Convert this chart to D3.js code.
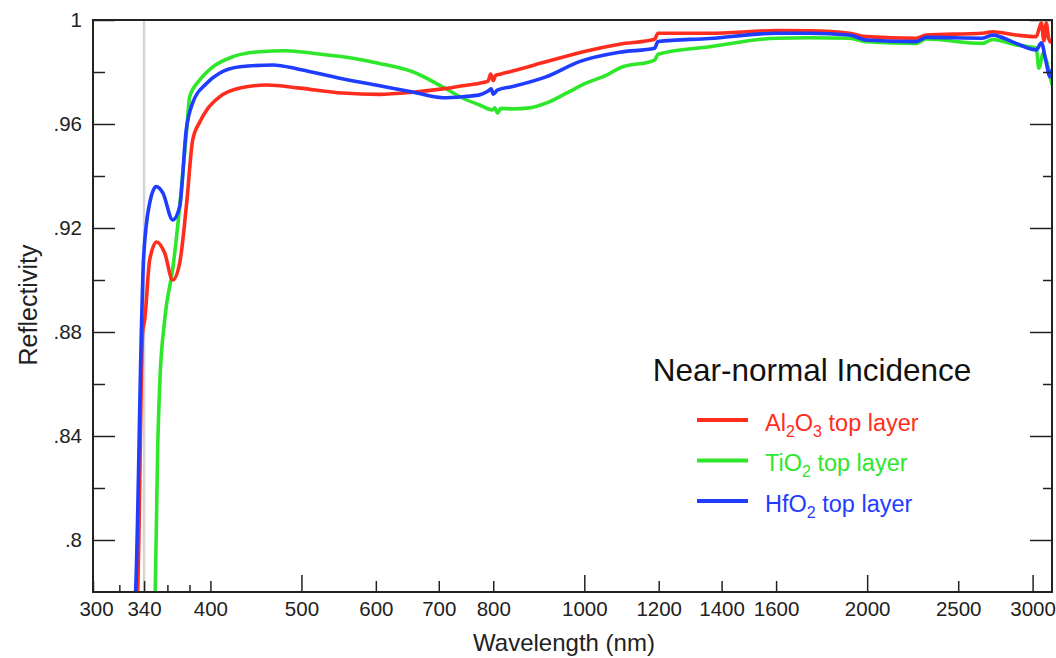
<!DOCTYPE html>
<html lang="en">
<head>
<meta charset="utf-8">
<script src="https://d3js.org/d3.v7.min.js"></script>
<style>
  body { margin: 0; background: #fff; }
  svg { display: block; font-family: "Liberation Sans", Arial, sans-serif; }
</style>
</head>
<body>
<script>
// wavelengths (nm) and reflectivity, one pair per coating
const alWl = [333, 334.7, 338.8, 340.5, 344.7, 350.6, 357.6, 364.7, 371, 377.4, 383, 390, 396.4, 409, 430, 459, 498, 553, 605.5, 656.6, 706.6, 742, 773.6, 790, 795, 800, 805, 810, 838.9, 911.8, 1005.6, 1090, 1188, 1198, 1358.8, 1601, 1736, 1915, 1996, 2255, 2311, 2653, 2719, 2882, 3027, 3050, 3065, 3085, 3102, 3120, 3140];
const alR  = [0.77, 0.78, 0.88, 0.8846, 0.9077, 0.9146, 0.9104, 0.900, 0.9065, 0.9296, 0.9538, 0.961, 0.9654, 0.9704, 0.9738, 0.975, 0.9738, 0.9719, 0.9714, 0.9722, 0.9735, 0.9747, 0.9757, 0.9765, 0.9792, 0.9767, 0.9788, 0.9790, 0.9804, 0.9840, 0.9881, 0.9907, 0.9926, 0.9949, 0.9949, 0.9959, 0.9958, 0.9949, 0.9936, 0.9930, 0.9942, 0.9949, 0.9955, 0.9942, 0.9936, 0.997, 0.9988, 0.992, 0.9988, 0.993, 0.9912];

const tiWl = [348.5, 349.4, 351.5, 353.2, 357.6, 365, 371, 377.4, 380.2, 389.6, 402.5, 422.7, 451, 482, 514, 567, 605.5, 656.6, 706.6, 742, 773.6, 798.7, 803, 808.5, 815, 838.9, 874.6, 911.8, 957.5, 1005.6, 1056, 1090, 1188, 1198, 1358.8, 1601, 1736, 1915, 1996, 2255, 2311, 2653, 2719, 2882, 3027, 3046, 3080, 3110, 3146];
const tiR  = [0.77, 0.78, 0.8346, 0.8588, 0.8846, 0.9051, 0.9282, 0.9577, 0.9705, 0.9769, 0.9820, 0.9859, 0.9878, 0.9882, 0.9872, 0.9853, 0.9833, 0.9801, 0.9743, 0.9700, 0.9673, 0.9654, 0.9662, 0.9642, 0.9660, 0.9658, 0.9662, 0.9681, 0.9719, 0.9758, 0.9788, 0.9815, 0.9846, 0.9868, 0.9897, 0.9930, 0.9932, 0.9930, 0.9917, 0.9910, 0.9927, 0.9910, 0.9925, 0.9904, 0.9892, 0.9815, 0.9873, 0.983, 0.975];

const hfWl = [331.5, 333, 338, 339.5, 344.7, 350.3, 356, 364.7, 371, 377, 383, 396.4, 409, 430, 466, 498, 549, 605.5, 656.6, 706.6, 742, 773.6, 790, 796, 800, 808, 838.9, 911.8, 988, 1090, 1188, 1198, 1358.8, 1601, 1736, 1915, 1996, 2255, 2311, 2653, 2719, 2882, 3027, 3065, 3100, 3130, 3146];
const hfR  = [0.77, 0.78, 0.8846, 0.9077, 0.9296, 0.9359, 0.9335, 0.9231, 0.9282, 0.9577, 0.9681, 0.9757, 0.9795, 0.9820, 0.9827, 0.9810, 0.9776, 0.9747, 0.9723, 0.9701, 0.9705, 0.9712, 0.9727, 0.9735, 0.9715, 0.9730, 0.9744, 0.9782, 0.9840, 0.9876, 0.9891, 0.9917, 0.9929, 0.9949, 0.9949, 0.9942, 0.9923, 0.9917, 0.9933, 0.9930, 0.9942, 0.9910, 0.9885, 0.9912, 0.984, 0.9782, 0.981];

const xTicks = [300, 320, 340, 360, 380, 400, 500, 600, 700, 800, 1000, 1200, 1400, 1600, 2000, 2500, 3000];
const xLabeled = [300, 340, 400, 500, 600, 700, 800, 1000, 1200, 1400, 1600, 2000, 2500, 3000];
const xLong = [500, 1000, 2000, 3000];
const yMajor = [0.8, 0.84, 0.88, 0.92, 0.96, 1];
const yMinor = [0.82, 0.86, 0.90, 0.94, 0.98];
const markerWl = 340;

const series = [
  { wl: tiWl, r: tiR, color: "#2ee62a" },
  { wl: alWl, r: alR, color: "#ff2d1e" },
  { wl: hfWl, r: hfR, color: "#1f3dff" }
];

const W = 1056, H = 658;
const pL = 93, pR = 1052, pT = 20, pB = 592;

const svg = d3.select("body").append("svg")
  .attr("width", W).attr("height", H);

const x = d3.scaleLog().domain([300, 3146]).range([pL, pR]);
const y = d3.scaleLinear().domain([0.78, 1]).range([pB, pT]);

svg.append("clipPath").attr("id", "plot")
  .append("rect").attr("x", pL).attr("y", pT)
  .attr("width", pR - pL).attr("height", pB - pT);

// grey marker at 340 nm
svg.append("line")
  .attr("x1", x(markerWl)).attr("x2", x(markerWl))
  .attr("y1", pT).attr("y2", pB)
  .attr("stroke", "#d4d4d4").attr("stroke-width", 2.5);

const line = d3.line()
  .x(d => x(d[0])).y(d => y(d[1]))
  .curve(d3.curveMonotoneX);

const plot = svg.append("g").attr("clip-path", "url(#plot)");
series.forEach(s => {
  plot.append("path")
    .datum(s.wl.map((w, i) => [w, s.r[i]]))
    .attr("d", line)
    .attr("fill", "none")
    .attr("stroke", s.color)
    .attr("stroke-width", 3.6)
    .attr("stroke-linejoin", "round");
});

// bottom axis, ticks pointing inward
const gx = svg.append("g")
  .attr("transform", "translate(0," + pB + ")")
  .call(d3.axisBottom(x).tickValues(xTicks).tickSizeInner(-7).tickSizeOuter(0).tickPadding(9)
    .tickFormat(d => xLabeled.includes(d) ? d : ""));
gx.select(".domain").remove();
gx.selectAll(".tick line")
  .attr("y2", d => xLong.includes(d) ? -17 : (xLabeled.includes(d) ? -11 : -7))
  .attr("stroke", "#222").attr("stroke-width", 1.5);
gx.selectAll(".tick text")
  .attr("font-size", 20.5).attr("fill", "#222")
  .attr("font-family", "'Liberation Sans', Arial, sans-serif")
  .attr("dx", d => d === 300 ? 3 : 0);

// left axis
const gy = svg.append("g")
  .attr("transform", "translate(" + pL + ",0)")
  .call(d3.axisLeft(y).tickValues(yMajor.concat(yMinor)).tickSizeInner(-22).tickSizeOuter(0).tickPadding(11)
    .tickFormat(d => yMajor.includes(d) ? (d === 1 ? "1" : d3.format(".2~f")(d).replace(/^0/, "")) : ""));
gy.select(".domain").remove();
gy.selectAll(".tick line")
  .attr("x2", d => yMajor.includes(d) ? 22 : 12)
  .attr("stroke", "#222").attr("stroke-width", 1.5);
gy.selectAll(".tick text")
  .attr("font-size", 20.5).attr("fill", "#222")
  .attr("font-family", "'Liberation Sans', Arial, sans-serif");

// right axis, no labels
const gr = svg.append("g")
  .attr("transform", "translate(" + pR + ",0)")
  .call(d3.axisRight(y).tickValues(yMajor.concat(yMinor)).tickSizeOuter(0).tickFormat(""));
gr.select(".domain").remove();
gr.selectAll(".tick line")
  .attr("x2", d => yMajor.includes(d) ? -22 : -9)
  .attr("stroke", "#222").attr("stroke-width", 1.5);

// frame
svg.append("rect")
  .attr("x", pL).attr("y", pT)
  .attr("width", pR - pL).attr("height", pB - pT)
  .attr("fill", "none").attr("stroke", "#222").attr("stroke-width", 2);

// axis titles
svg.append("text")
  .attr("x", 564).attr("y", 651)
  .attr("text-anchor", "middle").attr("font-size", 24).attr("fill", "#222")
  .text("Wavelength (nm)");
svg.append("text")
  .attr("transform", "translate(37,305) rotate(-90)")
  .attr("text-anchor", "middle").attr("font-size", 25).attr("fill", "#222")
  .text("Reflectivity");

// legend
const lg = svg.append("g");
lg.append("text")
  .attr("x", 812).attr("y", 381)
  .attr("text-anchor", "middle").attr("font-size", 31.5).attr("fill", "#111")
  .text("Near-normal Incidence");

const legendRows = [
  { color: "#ff2d1e", parts: [["Al", 0], ["2", 1], ["O", 0], ["3", 1], [" top layer", 0]] },
  { color: "#2ee62a", parts: [["TiO", 0], ["2", 1], [" top layer", 0]] },
  { color: "#1f3dff", parts: [["HfO", 0], ["2", 1], [" top layer", 0]] }
];
legendRows.forEach((row, i) => {
  const cy = 420 + i * 40.5;
  lg.append("line")
    .attr("x1", 697).attr("x2", 748).attr("y1", cy).attr("y2", cy)
    .attr("stroke", row.color).attr("stroke-width", 4);
  const t = lg.append("text")
    .attr("x", 765).attr("y", cy + 10.5)
    .attr("font-size", 23.5).attr("fill", row.color);
  row.parts.forEach((p, j) => {
    const ts = t.append("tspan").text(p[0]);
    if (p[1]) ts.attr("font-size", 16).attr("dy", 6);
    else if (j > 0) ts.attr("dy", -6);
  });
});
</script>
</body>
</html>
